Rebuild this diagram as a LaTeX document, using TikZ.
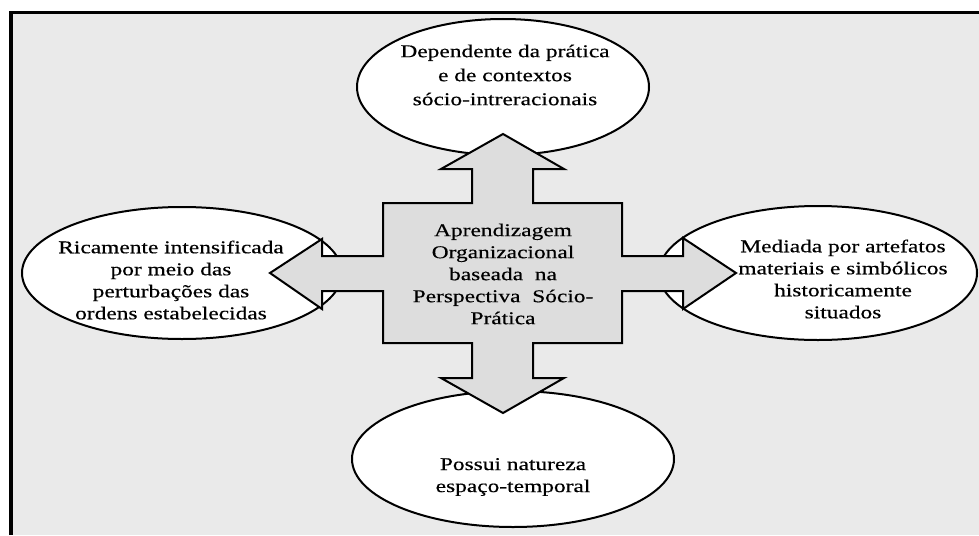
\documentclass[tikz,border=0pt]{standalone}
\usepackage{fontspec}
\newfontfamily\dfont[FakeStretch=1.3,FakeBold=0.4]{Liberation Serif}
\usetikzlibrary{shapes.geometric}
\definecolor{bggray}{HTML}{EAEAEA}
\definecolor{arrowgray}{HTML}{DDDDDD}
\tikzset{
  oval/.style={ellipse, draw=black, line width=2pt, fill=white, inner sep=0pt},
  lbl/.style={align=center, inner sep=0pt, font=\dfont\fontsize{18}{22}\selectfont},
}
\begin{document}
\begin{tikzpicture}[x=1pt,y=-1pt]
\useasboundingbox (0,0) rectangle (979,535);
\fill[white] (0,0) rectangle (979,535);
\fill[bggray] (11,12.5) rectangle (979,535);
\draw[line width=3.5pt] (11,535) -- (11,12.5) -- (979,12.5);
% ellipses
\node[oval, minimum width=292pt, minimum height=136pt] (top) at (503,87) {};
\node[oval, minimum width=320pt, minimum height=132pt] (left) at (182,273) {};
\node[oval, minimum width=318pt, minimum height=134pt] (right) at (818,273) {};
\node[oval, minimum width=322pt, minimum height=136pt] (bottom) at (513,459) {};
% cross of arrows
\draw[line width=2pt, fill=arrowgray, line join=miter]
 (503,134) -- (564,169) -- (533,169) -- (533,203) -- (622,203) -- (622,256)
 -- (683,256) -- (683,238) -- (736,273) -- (683,309) -- (683,291) -- (622,291)
 -- (622,343) -- (533,343) -- (533,378) -- (564,378) -- (503,413) -- (441,378)
 -- (472,378) -- (472,343) -- (383,343) -- (383,291) -- (322,291) -- (322,309)
 -- (270,273) -- (322,239) -- (322,256) -- (383,256) -- (383,203) -- (472,203)
 -- (472,169) -- (441,169) -- cycle;
% texts
\node[lbl, font=\dfont\fontsize{18}{24}\selectfont] (toptext) at (505,75) {Dependente da prática\\e de contextos\\sócio-intreracionais};
\node[lbl] (lefttext) at (171,280) {Ricamente intensificada\\por meio das\\perturbações das\\ordens estabelecidas};
\node[lbl] (centertext) at (503,274) {Aprendizagem\\Organizacional\\baseada\ \ na\\Perspectiva\ \ Sócio-\\Prática};
\node[lbl] (righttext) at (843,279) {Mediada por artefatos\\materiais e simbólicos\\historicamente\\situados};
\node[lbl] (bottomtext) at (513,477) {Possui natureza\\espaço-temporal};
\end{tikzpicture}
\end{document}
